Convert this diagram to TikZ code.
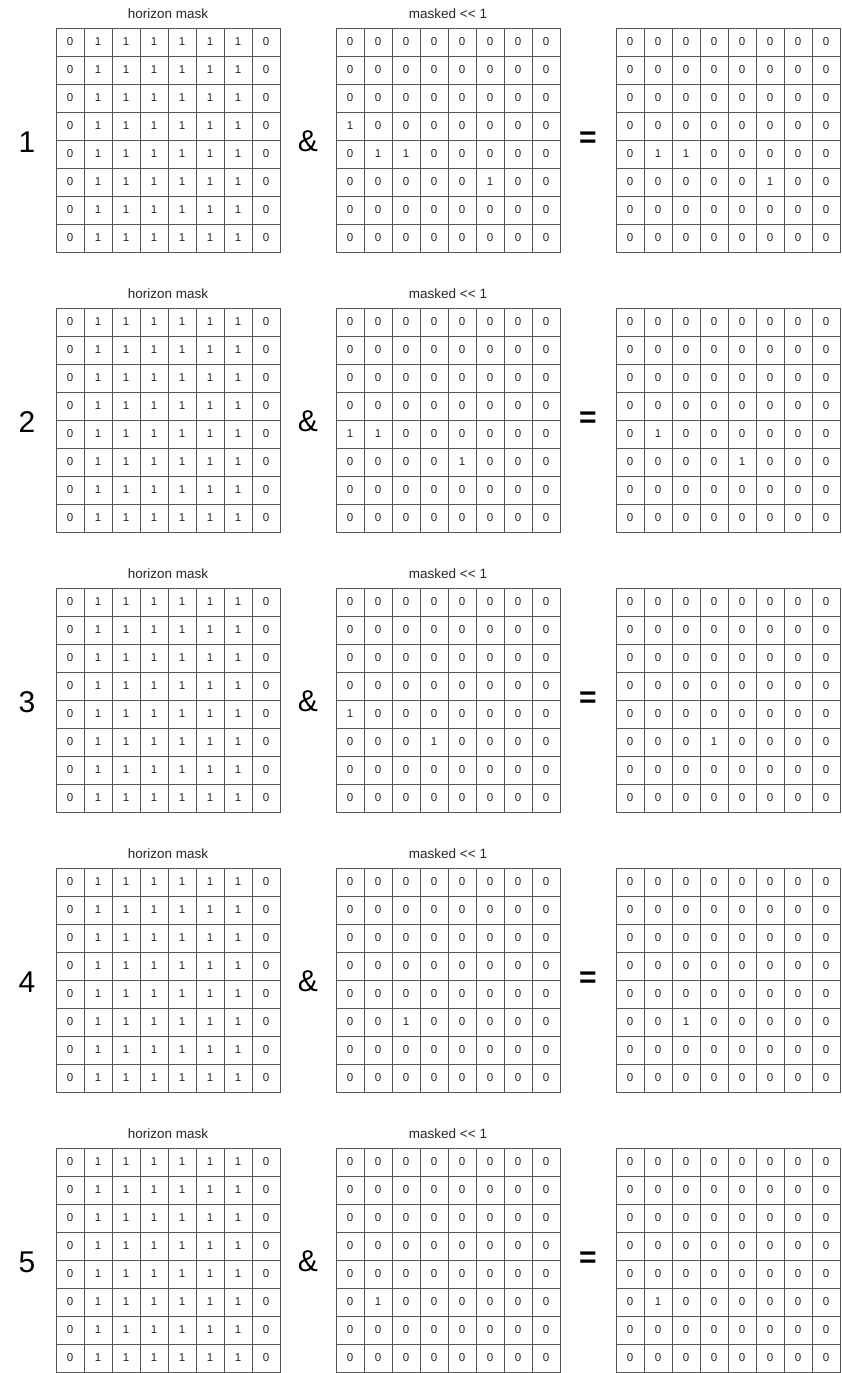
\documentclass[tikz,border=0pt]{standalone}
\usepackage{fontspec}
\setmainfont{Liberation Sans}
\definecolor{ln}{HTML}{555555}
\definecolor{tx}{HTML}{262626}
\newcommand\markone[4]{\expandafter\def\csname one-#1-#2-#3-#4\endcsname{}}
\markone{1}{1}{3}{0}\markone{1}{1}{4}{1}\markone{1}{1}{4}{2}\markone{1}{1}{5}{5}
\markone{1}{2}{4}{1}\markone{1}{2}{4}{2}\markone{1}{2}{5}{5}
\markone{2}{1}{4}{0}\markone{2}{1}{4}{1}\markone{2}{1}{5}{4}
\markone{2}{2}{4}{1}\markone{2}{2}{5}{4}
\markone{3}{1}{4}{0}\markone{3}{1}{5}{3}
\markone{3}{2}{5}{3}
\markone{4}{1}{5}{2}\markone{4}{2}{5}{2}
\markone{5}{1}{5}{1}\markone{5}{2}{5}{1}
\newcommand\cellval[4]{\ifnum#2=0 \ifnum#4>0 \ifnum#4<7 1\else 0\fi\else 0\fi\else\ifcsname one-#1-#2-#3-#4\endcsname 1\else 0\fi\fi}
\begin{document}
\begin{tikzpicture}[x=1pt,y=-1pt,
  cell/.style={draw=ln, line width=1pt, minimum size=28pt, inner sep=0pt, outer sep=0pt, font=\fontsize{11.5}{13}\selectfont, text=tx},
  gridtitle/.style={inner sep=0pt, font=\fontsize{13.5}{15}\selectfont, text=tx},
  bigsym/.style={inner sep=0pt, font=\fontsize{30}{34}\selectfont, text=black}]
\useasboundingbox (0,0) rectangle (841,1373);
\foreach \r in {1,...,5}{
  \pgfmathtruncatemacro\oy{280*(\r-1)}
  \node[gridtitle] (ht\r) at (168,{14+\oy}) {horizon mask};
  \node[gridtitle] (mt\r) at (448,{14+\oy}) {masked {<}{<} 1};
  \node[bigsym] (num\r) at (27,{142+\oy}) {\r};
  \node[bigsym] (amp\r) at (308,{141+\oy}) {\&};
  \node[bigsym] (eq\r) at (588,{140+\oy}) {\textbf{=}};
  \foreach \g in {0,1,2}{
    \foreach \i in {0,...,7}{
      \foreach \j in {0,...,7}{
        \node[cell] (c\r-\g-\i-\j) at ({70+280*\g+28*\j},{42+\oy+28*\i}) {\cellval{\r}{\g}{\i}{\j}};
      }
    }
  }
}
\end{tikzpicture}
\end{document}
